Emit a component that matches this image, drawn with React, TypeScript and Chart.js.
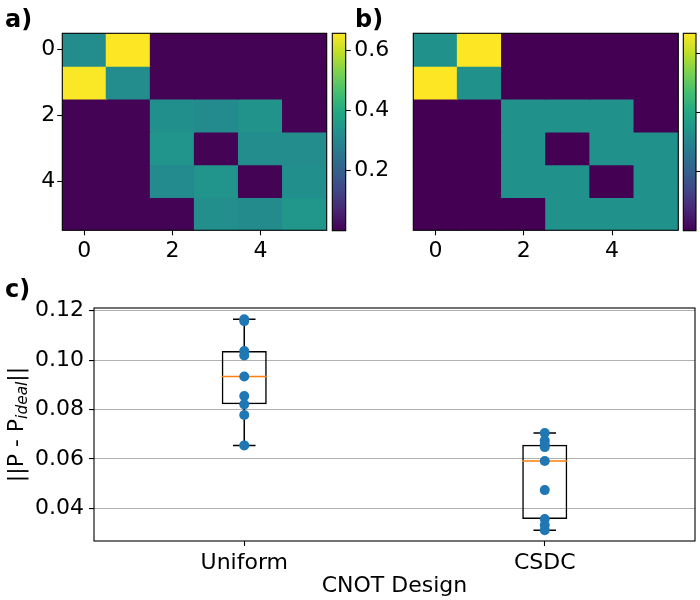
import React, { useEffect, useRef } from 'react';
import { Chart, registerables } from 'chart.js';

Chart.register(...registerables);

const FONT_FAMILY = 'DejaVu Sans';
const TEXT_COLOR = '#000000';
Chart.defaults.font.family = FONT_FAMILY;
Chart.defaults.color = TEXT_COLOR;

// ---------- panels a) and b): 6x6 matrices ----------
const MATRIX_INDEX = [0, 1, 2, 3, 4, 5];
const MATRIX_TICKS = [0, 2, 4];

const MATRIX_A_ROW0 = [0.315, 0.658, 0.0, 0.0, 0.0, 0.0];
const MATRIX_A_ROW1 = [0.655, 0.318, 0.0, 0.0, 0.0, 0.0];
const MATRIX_A_ROW2 = [0.0, 0.0, 0.325, 0.31, 0.332, 0.0];
const MATRIX_A_ROW3 = [0.0, 0.0, 0.338, 0.0, 0.318, 0.315];
const MATRIX_A_ROW4 = [0.0, 0.0, 0.31, 0.337, 0.0, 0.325];
const MATRIX_A_ROW5 = [0.0, 0.0, 0.0, 0.322, 0.312, 0.342];
const MATRIX_A = [MATRIX_A_ROW0, MATRIX_A_ROW1, MATRIX_A_ROW2, MATRIX_A_ROW3, MATRIX_A_ROW4, MATRIX_A_ROW5];

const MATRIX_B_ROW0 = [0.333, 0.667, 0, 0, 0, 0];
const MATRIX_B_ROW1 = [0.667, 0.333, 0, 0, 0, 0];
const MATRIX_B_ROW2 = [0, 0, 0.333, 0.333, 0.333, 0];
const MATRIX_B_ROW3 = [0, 0, 0.333, 0, 0.333, 0.333];
const MATRIX_B_ROW4 = [0, 0, 0.333, 0.333, 0, 0.333];
const MATRIX_B_ROW5 = [0, 0, 0, 0.333, 0.333, 0.333];
const MATRIX_B = [MATRIX_B_ROW0, MATRIX_B_ROW1, MATRIX_B_ROW2, MATRIX_B_ROW3, MATRIX_B_ROW4, MATRIX_B_ROW5];

const COLORBAR_A_RANGE = [-0.003, 0.658];
const COLORBAR_B_RANGE = [0.0, 0.667];
const COLORBAR_TICKS = [0.2, 0.4, 0.6];

// ---------- panel c): box plot ----------
const CATEGORIES = ['Uniform', 'CSDC'];
const UNIFORM_POINTS = [0.1165, 0.1158, 0.1037, 0.1019, 0.0934, 0.0855, 0.0821, 0.0778, 0.0655];
const CSDC_POINTS = [0.0705, 0.0675, 0.0658, 0.0648, 0.0592, 0.0474, 0.0357, 0.0333, 0.0312];
const C_Y_TICKS = [0.04, 0.06, 0.08, 0.1, 0.12];
const C_Y_RANGE = [0.0268, 0.1211];
const C_X_RANGE = [0.5, 2.5];

const PANEL_LABELS = ['a)', 'b)', 'c)'];
const X_TITLE = 'CNOT Design';
const Y_TITLE_MAIN = '||P - P';
const Y_TITLE_SUB = 'ideal';
const Y_TITLE_END = '||';

// ---------- styling ----------
const VIRIDIS = ['#440154', '#482475', '#414487', '#355f8d', '#2a788e', '#21918c', '#22a884', '#44bf70', '#7ad151', '#bddf26', '#fde725'];
const POINT_COLOR = '#1f77b4';
const MEDIAN_COLOR = '#ff7f0e';
const GRID_COLOR = '#b0b0b0';
const BOX_WIDTH = 0.15;
const TICK_FONT = { family: FONT_FAMILY, size: 22 };

function hexToRgb(h: string) {
  const n = parseInt(h.slice(1), 16);
  return [(n >> 16) & 255, (n >> 8) & 255, n & 255];
}
function viridis(t: number) {
  const tt = Math.max(0, Math.min(1, t));
  const s = tt * (VIRIDIS.length - 1);
  const i = Math.min(Math.floor(s), VIRIDIS.length - 2);
  const f = s - i;
  const a = hexToRgb(VIRIDIS[i]);
  const b = hexToRgb(VIRIDIS[i + 1]);
  const c = a.map((v, k) => Math.round(v + (b[k] - v) * f));
  return `rgb(${c[0]},${c[1]},${c[2]})`;
}

function boxStats(values: number[]) {
  const s = [...values].sort((a, b) => a - b);
  const q = (p: number) => {
    const pos = (s.length - 1) * p;
    const lo = Math.floor(pos);
    const hi = Math.ceil(pos);
    return s[lo] + (s[hi] - s[lo]) * (pos - lo);
  };
  const q1 = q(0.25);
  const med = q(0.5);
  const q3 = q(0.75);
  const iqr = q3 - q1;
  const lo = Math.min(...s.filter((v) => v >= q1 - 1.5 * iqr));
  const hi = Math.max(...s.filter((v) => v <= q3 + 1.5 * iqr));
  return { q1, med, q3, lo, hi };
}

const framePlugin = {
  id: 'frame',
  afterDatasetsDraw(chart: any) {
    const { ctx, chartArea: a } = chart;
    ctx.save();
    ctx.strokeStyle = '#000';
    ctx.lineWidth = 1.1;
    ctx.strokeRect(a.left, a.top, a.right - a.left, a.bottom - a.top);
    ctx.restore();
  },
};

function panelLabel(text: string, x: number, y: number) {
  return {
    id: 'panelLabel',
    afterDraw(chart: any) {
      const ctx = chart.ctx;
      ctx.save();
      ctx.font = `bold 24px "${FONT_FAMILY}"`;
      ctx.fillStyle = TEXT_COLOR;
      ctx.textAlign = 'left';
      ctx.textBaseline = 'alphabetic';
      ctx.fillText(text, x, y);
      ctx.restore();
    },
  };
}

const yTitlePlugin = {
  id: 'yTitle',
  afterDraw(chart: any) {
    const { ctx, chartArea } = chart;
    const cy = (chartArea.top + chartArea.bottom) / 2;
    const mainFont = `22px "${FONT_FAMILY}"`;
    const subFont = `italic 15.4px "${FONT_FAMILY}"`;
    ctx.save();
    ctx.translate(23, cy);
    ctx.rotate(-Math.PI / 2);
    ctx.font = mainFont;
    const w1 = ctx.measureText(Y_TITLE_MAIN).width;
    const w3 = ctx.measureText(Y_TITLE_END).width;
    ctx.font = subFont;
    const w2 = ctx.measureText(Y_TITLE_SUB).width;
    let px = -(w1 + w2 + w3) / 2;
    ctx.fillStyle = TEXT_COLOR;
    ctx.textAlign = 'left';
    ctx.textBaseline = 'alphabetic';
    ctx.font = mainFont;
    ctx.fillText(Y_TITLE_MAIN, px, 0);
    px += w1;
    ctx.font = subFont;
    ctx.fillText(Y_TITLE_SUB, px, 3.5);
    px += w2;
    ctx.font = mainFont;
    ctx.fillText(Y_TITLE_END, px, 0);
    ctx.restore();
  },
};

const tickGrid = {
  display: true,
  drawOnChartArea: false,
  drawTicks: true,
  tickLength: 5,
  tickColor: '#000',
  tickWidth: 1.1,
  offset: false,
};

const HEAT_H = 262;

function heatmapConfig(rows: number[][], range: number[], padLeft: number, padRight: number, showY: boolean, label: string): any {
  const [vmin, vmax] = range;
  const yScale: any = {
    type: 'linear',
    reverse: true,
    min: -0.5,
    max: 5.5,
    display: showY,
    afterBuildTicks: (s: any) => {
      s.ticks = MATRIX_TICKS.map((v) => ({ value: v }));
    },
    ticks: { font: TICK_FONT, color: TEXT_COLOR, padding: 2, autoSkip: false, callback: (v: any) => String(v) },
    grid: tickGrid,
    border: { display: false },
  };
  if (showY) {
    yScale.afterFit = (s: any) => {
      s.width = 62.3;
    };
  }
  return {
    type: 'bar',
    data: {
      datasets: rows.map((row, r) => ({
        data: MATRIX_INDEX.map((c) => ({ x: c, y: [r - 0.5, r + 0.5] })),
        backgroundColor: row.map((v) => viridis((v - vmin) / (vmax - vmin))),
        borderWidth: 0,
        inflateAmount: 0.6,
        grouped: false,
        barPercentage: 1,
        categoryPercentage: 1,
      })),
    },
    options: {
      animation: false,
      responsive: true,
      maintainAspectRatio: false,
      events: [],
      layout: { padding: { left: padLeft, right: padRight, top: 33.3, bottom: 0 } },
      plugins: { legend: { display: false }, tooltip: { enabled: false } },
      scales: {
        x: {
          type: 'linear',
          min: -0.5,
          max: 5.5,
          offset: false,
          afterBuildTicks: (s: any) => {
            s.ticks = MATRIX_TICKS.map((v) => ({ value: v }));
          },
          afterFit: (s: any) => {
            s.height = HEAT_H - 230.3;
          },
          ticks: { font: TICK_FONT, color: TEXT_COLOR, padding: 3, maxRotation: 0, autoSkip: false, callback: (v: any) => String(v) },
          grid: tickGrid,
          border: { display: false },
        },
        y: yScale,
      },
    },
    plugins: [framePlugin, panelLabel(label, 5, 27)],
  };
}

function colorbarConfig(range: number[], padLeft: number, axisWidth: number): any {
  const [vmin, vmax] = range;
  return {
    type: 'bar',
    data: {
      labels: [''],
      datasets: [
        {
          data: [[vmin, vmax]],
          backgroundColor: (ctx: any) => {
            const chart = ctx.chart;
            const y = chart.scales && chart.scales.y;
            if (!chart.chartArea || !y) return VIRIDIS[5];
            const g = chart.ctx.createLinearGradient(0, y.getPixelForValue(vmin), 0, y.getPixelForValue(vmax));
            VIRIDIS.forEach((c, i) => g.addColorStop(i / (VIRIDIS.length - 1), c));
            return g;
          },
          borderWidth: 0,
          barPercentage: 1,
          categoryPercentage: 1,
        },
      ],
    },
    options: {
      animation: false,
      responsive: true,
      maintainAspectRatio: false,
      events: [],
      layout: { padding: { left: padLeft, right: 0, top: 33.3, bottom: HEAT_H - 230.7 } },
      plugins: { legend: { display: false }, tooltip: { enabled: false } },
      scales: {
        x: { type: 'category', display: false, offset: true },
        y: {
          type: 'linear',
          position: 'right',
          min: vmin,
          max: vmax,
          afterBuildTicks: (s: any) => {
            s.ticks = COLORBAR_TICKS.map((v) => ({ value: v }));
          },
          afterFit: (s: any) => {
            s.width = axisWidth;
          },
          ticks: { font: TICK_FONT, color: TEXT_COLOR, padding: 3.5, autoSkip: false, callback: (v: any) => Number(v).toFixed(1) },
          grid: tickGrid,
          border: { display: false },
        },
      },
    },
    plugins: [framePlugin],
  };
}

function boxConfig(): any {
  const groups = [UNIFORM_POINTS, CSDC_POINTS];
  const stats = groups.map(boxStats);
  const half = BOX_WIDTH / 2;
  const cap = BOX_WIDTH / 4;
  const points: any[] = [];
  groups.forEach((g, i) => g.forEach((v) => points.push({ x: i + 1, y: v })));
  const medians: any[] = [];
  const whiskers: any[] = [];
  stats.forEach((s, i) => {
    const x = i + 1;
    medians.push({ x: x - half, y: s.med }, { x: x + half, y: s.med }, { x: x + 0.5, y: null });
    whiskers.push({ x, y: s.q1 }, { x, y: s.lo }, { x, y: null });
    whiskers.push({ x, y: s.q3 }, { x, y: s.hi }, { x, y: null });
    whiskers.push({ x: x - cap, y: s.lo }, { x: x + cap, y: s.lo }, { x, y: null });
    whiskers.push({ x: x - cap, y: s.hi }, { x: x + cap, y: s.hi }, { x, y: null });
  });
  return {
    type: 'bar',
    data: {
      datasets: [
        {
          type: 'scatter',
          data: points,
          backgroundColor: POINT_COLOR,
          borderColor: POINT_COLOR,
          borderWidth: 0,
          pointRadius: 5,
          order: 0,
        },
        {
          type: 'line',
          data: medians,
          borderColor: MEDIAN_COLOR,
          borderWidth: 1.4,
          pointRadius: 0,
          spanGaps: false,
          fill: false,
          order: 1,
        },
        {
          type: 'line',
          data: whiskers,
          borderColor: '#000',
          borderWidth: 1.5,
          pointRadius: 0,
          spanGaps: false,
          fill: false,
          order: 2,
        },
        {
          type: 'bar',
          data: stats.map((s, i) => ({ x: i + 1, y: [s.q1, s.q3] })),
          backgroundColor: 'rgba(0,0,0,0)',
          borderColor: '#000',
          borderWidth: 1.5,
          borderSkipped: false,
          barPercentage: BOX_WIDTH,
          categoryPercentage: 1,
          order: 3,
        },
      ],
    },
    options: {
      animation: false,
      responsive: true,
      maintainAspectRatio: false,
      events: [],
      layout: { padding: { left: 0, right: 4, top: 38, bottom: 0 } },
      plugins: { legend: { display: false }, tooltip: { enabled: false } },
      scales: {
        x: {
          type: 'linear',
          min: C_X_RANGE[0],
          max: C_X_RANGE[1],
          offset: false,
          afterBuildTicks: (s: any) => {
            s.ticks = CATEGORIES.map((_, i) => ({ value: i + 1 }));
          },
          afterFit: (s: any) => {
            s.height = 59;
          },
          ticks: {
            font: TICK_FONT,
            color: TEXT_COLOR,
            padding: 4,
            maxRotation: 0,
            autoSkip: false,
            callback: (v: any) => CATEGORIES[Math.round(Number(v)) - 1],
          },
          grid: tickGrid,
          border: { display: false },
          title: {
            display: true,
            text: X_TITLE,
            font: { family: FONT_FAMILY, size: 22 },
            color: TEXT_COLOR,
            padding: { top: 0, bottom: 1 },
          },
        },
        y: {
          type: 'linear',
          min: C_Y_RANGE[0],
          max: C_Y_RANGE[1],
          afterBuildTicks: (s: any) => {
            s.ticks = C_Y_TICKS.map((v) => ({ value: v }));
          },
          afterFit: (s: any) => {
            s.width = 94;
          },
          ticks: { font: TICK_FONT, color: TEXT_COLOR, padding: 5, autoSkip: false, callback: (v: any) => Number(v).toFixed(2) },
          grid: {
            display: true,
            drawOnChartArea: true,
            drawTicks: true,
            tickLength: 5,
            color: GRID_COLOR,
            lineWidth: 1.1,
            tickColor: '#000',
            tickWidth: 1.1,
          },
          border: { display: false },
        },
      },
    },
    plugins: [framePlugin, yTitlePlugin, panelLabel(PANEL_LABELS[2], 5, 27)],
  };
}

function ChartBox(props: { left: number; top: number; width: number; height: number; make: () => any }) {
  const ref = useRef<HTMLCanvasElement>(null);
  useEffect(() => {
    const chart = new Chart(ref.current as HTMLCanvasElement, props.make());
    return () => chart.destroy();
  }, []);
  return (
    <div style={{ position: 'absolute', left: props.left, top: props.top, width: props.width, height: props.height }}>
      <canvas ref={ref} />
    </div>
  );
}

export default function App() {
  return (
    <div
      style={{
        position: 'fixed',
        left: 0,
        top: 0,
        width: 700,
        height: 600,
        overflow: 'hidden',
        background: '#ffffff',
      }}
    >
      <ChartBox left={0} top={0} width={330} height={HEAT_H} make={() => heatmapConfig(MATRIX_A, COLORBAR_A_RANGE, 0, 3.3, true, PANEL_LABELS[0])} />
      <ChartBox left={330} top={0} width={70} height={HEAT_H} make={() => colorbarConfig(COLORBAR_A_RANGE, 2.3, 54.3)} />
      <ChartBox left={350} top={0} width={330} height={HEAT_H} make={() => heatmapConfig(MATRIX_B, COLORBAR_B_RANGE, 63.3, 1.7, false, PANEL_LABELS[1])} />
      <ChartBox left={680} top={0} width={70} height={HEAT_H} make={() => colorbarConfig(COLORBAR_B_RANGE, 3.3, 54)} />
      <ChartBox left={0} top={270} width={700} height={330} make={boxConfig} />
    </div>
  );
}
